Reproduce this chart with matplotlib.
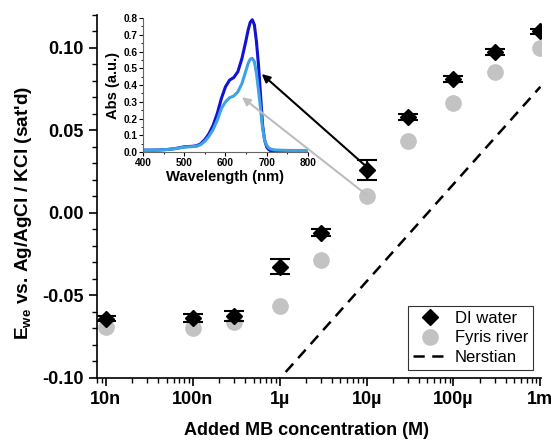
import matplotlib
matplotlib.use("Agg")
import matplotlib.pyplot as plt
import numpy as np
from matplotlib.lines import Line2D
from matplotlib.ticker import FixedLocator, MultipleLocator, LogLocator, NullFormatter

plt.rcParams['font.family'] = ['Liberation Sans', 'DejaVu Sans']
plt.rcParams['font.weight'] = 'bold'
plt.rcParams['axes.labelweight'] = 'bold'
plt.rcParams['mathtext.default'] = 'regular'

# concentracion de MB agregada (M)
conc = [1e-8, 1e-7, 3e-7, 1e-6, 3e-6, 1e-5, 3e-5, 1e-4, 3e-4, 1e-3]
e_di = [-0.064, -0.0635, -0.0625, -0.0325, -0.012, 0.026, 0.058, 0.081, 0.0975, 0.110]
err_di = [0.0015, 0.0025, 0.003, 0.0045, 0.002, 0.006, 0.0018, 0.0018, 0.0018, 0.0018]
e_fyris = [-0.069, -0.0695, -0.066, -0.0565, -0.0285, 0.010, 0.0435, 0.0665, 0.0855, 0.100]

# recta nernstiana (dos extremos)
nern_x = [1e-8, 1e-3]
nern_y = [-0.2185, 0.0765]

# espectros del inset
wl = [400, 420, 440, 460, 480, 500, 520, 530, 540, 550, 560, 570, 580, 590, 600,
      610, 620, 630, 640, 650, 655, 660, 665, 670, 675, 680, 685, 690, 695, 700,
      705, 710, 720, 740, 760, 800]
abs_di = [0.012, 0.012, 0.013, 0.016, 0.022, 0.032, 0.035, 0.038, 0.05, 0.075, 0.11,
          0.16, 0.23, 0.32, 0.39, 0.43, 0.445, 0.48, 0.56, 0.67, 0.73, 0.775, 0.79,
          0.76, 0.66, 0.52, 0.34, 0.16, 0.07, 0.03, 0.015, 0.008, 0.004, 0.003, 0.002, 0.002]
abs_fy = [0.012, 0.012, 0.013, 0.016, 0.022, 0.03, 0.033, 0.035, 0.045, 0.065, 0.095,
          0.135, 0.19, 0.26, 0.3, 0.325, 0.335, 0.36, 0.41, 0.49, 0.53, 0.555, 0.56,
          0.54, 0.47, 0.37, 0.26, 0.14, 0.07, 0.04, 0.025, 0.018, 0.013, 0.011, 0.01, 0.01]

fig = plt.figure(figsize=(5.54, 4.41), dpi=100)
ax = fig.add_axes([0.175, 0.143, 0.802, 0.823])

ax.plot(conc, e_fyris, 'o', color='#c3c3c3', markersize=11, zorder=2)
ax.errorbar(conc, e_di, yerr=err_di, fmt='D', color='black', markersize=8.5,
            elinewidth=1.5, capsize=7, capthick=1.5, zorder=3)
ax.plot(nern_x, nern_y, color='black', lw=1.8, linestyle=(0, (4.5, 3)))

ax.set_xscale('log')
ax.set_xlim(10**-8.103, 10**-2.99)
ax.set_ylim(-0.10, 0.12)
ax.xaxis.set_major_locator(FixedLocator([1e-8, 1e-7, 1e-6, 1e-5, 1e-4, 1e-3]))
ax.set_xticklabels(['10n', '100n', '1\u00b5', '10\u00b5', '100\u00b5', '1m'])
ax.xaxis.set_minor_locator(LogLocator(base=10, subs=np.arange(2, 10), numticks=20))
ax.xaxis.set_minor_formatter(NullFormatter())
ax.yaxis.set_major_locator(MultipleLocator(0.05))
ax.yaxis.set_minor_locator(MultipleLocator(0.01))
ax.yaxis.set_major_formatter(plt.FuncFormatter(lambda v, p: '%.2f' % v))
ax.tick_params(which='major', direction='out', length=6, width=1.2, labelsize=13)
ax.tick_params(which='minor', direction='out', length=3.5, width=1.0)
ax.spines['top'].set_visible(False)
ax.spines['right'].set_visible(False)
ax.spines['left'].set_linewidth(1.2)
ax.spines['bottom'].set_linewidth(1.2)
ax.set_xlabel('Added MB concentration (M)', fontsize=13)
ax.xaxis.set_label_coords(0.471, -0.122)
ax.set_ylabel("E$_{we}$ vs. Ag/AgCl / KCl (sat'd)", fontsize=13.7)
ax.yaxis.set_label_coords(-0.142, 0.455)

# leyenda con manejadores propios (sin barras de error)
handles = [Line2D([], [], marker='D', color='black', linestyle='none', markersize=8.5),
           Line2D([], [], marker='o', color='#c3c3c3', linestyle='none', markersize=11),
           Line2D([], [], color='black', lw=1.8, linestyle=(0, (4.5, 3)))]
leg = ax.legend(handles, ['DI water', 'Fyris river', 'Nerstian'], loc='lower right',
                prop={'weight': 'normal', 'size': 12}, frameon=True, fancybox=False,
                edgecolor='black', handlelength=2.0, handletextpad=0.5,
                borderpad=0.3, labelspacing=0.25, borderaxespad=0.5)
leg.get_frame().set_linewidth(0.8)

# inset con espectros
axi = fig.add_axes([0.258, 0.655, 0.298, 0.304])
axi.patch.set_alpha(0)
axi.plot(wl, abs_di, color='#1212d2', lw=2.2)
axi.plot(wl, abs_fy, color='#3ea2e6', lw=2.2)
axi.set_xlim(400, 800)
axi.set_ylim(0, 0.8)
axi.xaxis.set_major_locator(MultipleLocator(100))
axi.xaxis.set_minor_locator(MultipleLocator(50))
axi.yaxis.set_major_locator(MultipleLocator(0.1))
axi.yaxis.set_minor_locator(MultipleLocator(0.05))
axi.tick_params(which='major', direction='out', length=3, width=0.8, labelsize=7.3, pad=1)
axi.tick_params(which='minor', direction='out', length=1.5, width=0.6)
axi.spines['top'].set_visible(False)
axi.spines['right'].set_visible(False)
axi.spines['left'].set_color('#666666')
axi.spines['bottom'].set_color('#666666')
axi.set_xlabel('Wavelength (nm)', fontsize=10.6, labelpad=2)
axi.set_ylabel('Abs (a.u.)', fontsize=10.6, labelpad=2)

# flechas desde los puntos de 10 uM al espectro
axi.annotate('', xy=(688, 0.466), xycoords='data', xytext=(1e-5, 0.028),
             textcoords=ax.transData, annotation_clip=False,
             arrowprops=dict(arrowstyle='-|>', color='black', lw=1.5,
                             mutation_scale=12, shrinkA=0, shrinkB=0))
axi.annotate('', xy=(640, 0.328), xycoords='data', xytext=(1e-5, 0.011),
             textcoords=ax.transData, annotation_clip=False,
             arrowprops=dict(arrowstyle='-|>', color='#bdbdbd', lw=1.5,
                             mutation_scale=12, shrinkA=0, shrinkB=0))

fig.savefig('out.png', dpi=100)
